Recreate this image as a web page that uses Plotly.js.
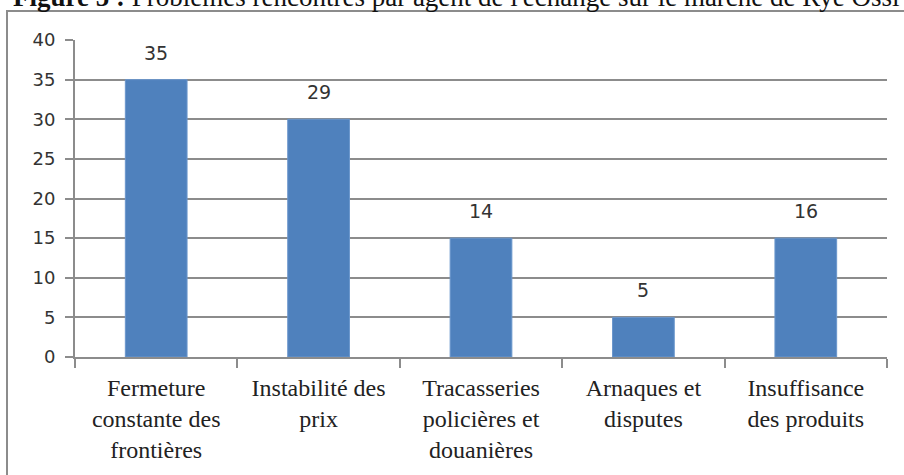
<!DOCTYPE html>
<html>
<head>
<meta charset="utf-8">
<script src="https://cdn.plot.ly/plotly-3.0.1.min.js"></script>
<style>html,body{margin:0;padding:0;background:#fff;}#chart{width:904px;height:475px;}</style>
</head>
<body>
<div id="chart"></div>
<script>
const categories = [
  "Fermeture<br>constante des<br>frontières",
  "Instabilité des<br>prix",
  "Tracasseries<br>policières et<br>douanières",
  "Arnaques et<br>disputes",
  "Insuffisance<br>des produits"
];
const barValues = [35, 30, 15, 5, 15];
const dataLabels = ["35", "29", "14", "5", "16"];
const yTicks = [0, 5, 10, 15, 20, 25, 30, 35, 40];
const figureTitle = "<b>Figure 5 :</b> Problèmes rencontrés par agent de l'échange sur le marché de Rye Ossi";

const SERIF = "'Liberation Serif', 'Times New Roman', 'DejaVu Serif', serif";
const SANS = "'DejaVu Sans', sans-serif";

const trace = {
  type: "bar",
  x: categories,
  y: barValues,
  marker: { color: "#4F81BD", line: { color: "#6a96cc", width: 1 } },
  hoverinfo: "skip"
};

const annotations = categories.map((c, i) => ({
  x: c, y: barValues[i], xref: "x", yref: "y",
  text: dataLabels[i], showarrow: false,
  yanchor: "middle", yshift: 27,
  font: { family: SANS, size: 19, color: "#333333" }
}));
annotations.push({
  xref: "paper", yref: "paper", x: -0.077, y: 1.084,
  xanchor: "left", yanchor: "bottom", showarrow: false, borderpad: 0,
  text: figureTitle,
  font: { family: SERIF, size: 27, color: "#111" }
});

const layout = {
  width: 904, height: 475,
  margin: { l: 75, r: 17, t: 40, b: 118, pad: 0 },
  paper_bgcolor: "#ffffff", plot_bgcolor: "#ffffff",
  showlegend: false,
  bargap: 0.62,
  xaxis: {
    type: "category",
    showline: true, linecolor: "#8c8c8c", linewidth: 2,
    ticks: "outside", tickson: "boundaries", ticklen: 9, tickcolor: "#8c8c8c", tickwidth: 2,
    ticklabelstandoff: 8,
    showgrid: false,
    tickfont: { family: SERIF, size: 24, color: "#222222" },
    fixedrange: true
  },
  yaxis: {
    range: [0, 40], tickvals: yTicks, ticktext: yTicks.map(String),
    showline: true, linecolor: "#8c8c8c", linewidth: 2,
    ticks: "outside", ticklen: 8, tickcolor: "#8c8c8c", tickwidth: 2,
    showgrid: true, gridcolor: "#8c8c8c", gridwidth: 2,
    zeroline: false,
    ticklabelstandoff: 6,
    tickfont: { family: SANS, size: 18, color: "#333333" },
    fixedrange: true
  },
  annotations: annotations,
  shapes: [{
    type: "rect", xref: "paper", yref: "paper",
    x0: (7 - 75) / 812, x1: (915 - 75) / 812,
    y0: (357 - 485) / 317, y1: (357 - 11) / 317,
    line: { color: "#8c8c8c", width: 2 }, fillcolor: "rgba(0,0,0,0)", layer: "below"
  }]
};

Plotly.newPlot("chart", [trace], layout, { displayModeBar: false, staticPlot: true });
</script>
</body>
</html>
